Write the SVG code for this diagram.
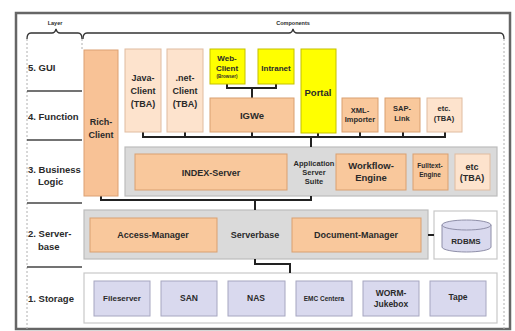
<svg xmlns="http://www.w3.org/2000/svg" width="515" height="331" viewBox="0 0 515 331">
<style>
text{font-family:"Liberation Sans",Arial,sans-serif;font-weight:bold;fill:#2a2a2a;text-anchor:middle}
.lay{text-anchor:start;font-size:9.5px}
.or{fill:#f9c89c;stroke:#d9a070;stroke-width:1}
.rc{fill:#f8c296;stroke:#dca072;stroke-width:1}
.lp{fill:#fde3cd;stroke:#e0bca0;stroke-width:1}
.ye{fill:#ffff00;stroke:#c4c000;stroke-width:1}
.gr{fill:#dadada;stroke:#bdbdbd;stroke-width:1.2}
.lv{fill:#d9d9ee;stroke:#a6a6c0;stroke-width:1}
.wb{fill:#ffffff;stroke:#c8c8c8;stroke-width:1.2}
.ln{fill:none;stroke:#222;stroke-width:2}
.sep{stroke:#444;stroke-width:1.5}
.dash{stroke:#b0b0b0;stroke-width:1;stroke-dasharray:2 2}
</style>
<rect x="0" y="0" width="515" height="331" fill="#fff"/>
<rect x="16" y="13" width="494" height="316" fill="none" stroke="#666" stroke-width="2.5"/>
<g id="braces">
<path d="M27,39 Q27,33 31,33 L52,33 Q55,33 56,29 Q57,33 60,33 L78,33 Q82,33 82,39" fill="none" stroke="#333" stroke-width="1.3"/>
<path d="M83,39 Q83,33 87,33 L289,33 Q292,33 293,29 Q294,33 297,33 L500,33 Q504,33 504,39" fill="none" stroke="#333" stroke-width="1.3"/>
<text x="55" y="25" style="font-size:5.5px">Layer</text>
<text x="293" y="25" style="font-size:5.5px">Components</text>
<line class="dash" x1="27" y1="39" x2="27" y2="329"/>
<line class="dash" x1="82" y1="39" x2="82" y2="50"/>
<line class="dash" x1="504" y1="39" x2="504" y2="329"/>
</g>
<g id="layers">
<line class="sep" x1="27" y1="91" x2="82" y2="91"/>
<line class="sep" x1="27" y1="140" x2="82" y2="140"/>
<line class="sep" x1="27" y1="203" x2="82" y2="203"/>
<line class="sep" x1="27" y1="267" x2="82" y2="267"/>
<text class="lay" x="28" y="71">5. GUI</text>
<text class="lay" x="28" y="120">4. Function</text>
<text class="lay" x="28" y="173">3. Business</text>
<text class="lay" x="38" y="185">Logic</text>
<text class="lay" x="28" y="237">2. Server-</text>
<text class="lay" x="38" y="250">base</text>
<text class="lay" x="28" y="302">1. Storage</text>
</g>
<g id="containers">
<rect id="business-logic" class="gr" x="125" y="147" width="372" height="49"/>
<rect id="serverbase-box" class="gr" x="84" y="210" width="344" height="49"/>
<rect id="rdbms-box" class="wb" x="434" y="211" width="63" height="48"/>
<rect id="storage-box" class="wb" x="84" y="273" width="413" height="50"/>
</g>
<g id="connectors">
<path class="ln" d="M227,84 V88 H276 V84"/>
<path class="ln" d="M252,88 V98"/>
<path class="ln" d="M143,132 V137 H445 V132 M185,132 V137 M252,132 V137 M318,133 V137 M360,132 V137 M403,132 V137"/>
<path class="ln" d="M311,137 V147"/>
<path class="ln" d="M101,196 V200 H311 V196"/>
<path class="ln" d="M255,200 V210"/>
<path class="ln" d="M255,259 V264 H290 V273"/>
<path class="ln" d="M428,235 H434"/>
</g>
<g id="rich-client"><rect class="rc" x="84" y="50" width="34" height="146"/><text x="101" y="125" style="font-size:9px">Rich-</text><text x="101" y="138" style="font-size:9px">Client</text></g>
<g id="java-client"><rect class="lp" x="125" y="49" width="36" height="83"/><text x="143" y="81" style="font-size:9px">Java-</text><text x="143" y="94" style="font-size:9px">Client</text><text x="143" y="107" style="font-size:9px">(TBA)</text></g>
<g id="net-client"><rect class="lp" x="167" y="49" width="36" height="83"/><text x="185" y="81" style="font-size:9px">.net-</text><text x="185" y="94" style="font-size:9px">Client</text><text x="185" y="107" style="font-size:9px">(TBA)</text></g>
<g id="web-client"><rect class="ye" x="210" y="49" width="35" height="35"/><text x="227" y="61" style="font-size:8px">Web-</text><text x="227" y="71" style="font-size:8px">Client</text><text x="227" y="78" style="font-size:4.5px">(Browser)</text></g>
<g id="intranet"><rect class="ye" x="258" y="49" width="36" height="35"/><text x="276" y="71" style="font-size:8px">Intranet</text></g>
<g id="portal"><rect class="ye" x="301" y="49" width="35" height="84"/><text x="318" y="96" style="font-size:9.5px">Portal</text></g>
<g id="igwe"><rect class="or" x="210" y="98" width="84" height="34"/><text x="252" y="119" style="font-size:9.5px">IGWe</text></g>
<g id="xml-importer"><rect class="or" x="342" y="98" width="36" height="34"/><text x="360" y="113" style="font-size:7.5px">XML-</text><text x="360" y="122" style="font-size:7.5px">Importer</text></g>
<g id="sap-link"><rect class="or" x="385" y="98" width="35" height="34"/><text x="402" y="111" style="font-size:7.5px">SAP-</text><text x="402" y="121" style="font-size:7.5px">Link</text></g>
<g id="etc-function"><rect class="lp" x="427" y="98" width="35" height="34"/><text x="444" y="111" style="font-size:7.5px">etc.</text><text x="444" y="121" style="font-size:7.5px">(TBA)</text></g>
<g id="index-server"><rect class="or" x="135" y="154" width="152" height="36"/><text x="211" y="176" style="font-size:9px">INDEX-Server</text></g>
<g id="app-server-suite"><text x="314" y="166" style="font-size:7.5px">Application</text><text x="314" y="175" style="font-size:7.5px">Server</text><text x="314" y="184" style="font-size:7.5px">Suite</text></g>
<g id="workflow-engine"><rect class="or" x="336" y="154" width="70" height="36"/><text x="371" y="169" style="font-size:9.5px">Workflow-</text><text x="371" y="181" style="font-size:9.5px">Engine</text></g>
<g id="fulltext-engine"><rect class="or" x="413" y="154" width="35" height="36"/><text x="430" y="168" style="font-size:6.5px">Fulltext-</text><text x="430" y="177" style="font-size:6.5px">Engine</text></g>
<g id="etc-business"><rect class="lp" x="455" y="154" width="35" height="36"/><text x="472" y="170" style="font-size:9px">etc</text><text x="472" y="181" style="font-size:9px">(TBA)</text></g>
<g id="access-manager"><rect class="or" x="90" y="218" width="127" height="34"/><text x="153" y="238" style="font-size:9px">Access-Manager</text></g>
<g id="serverbase"><text x="255" y="238" style="font-size:9px">Serverbase</text></g>
<g id="document-manager"><rect class="or" x="292" y="218" width="129" height="34"/><text x="356" y="238" style="font-size:9px">Document-Manager</text></g>
<g id="rdbms"><path d="M442,225 V247 A24.5,5 0 0 0 491,247 V225" fill="#d9d9ee" stroke="#8e8ea8" stroke-width="1"/><ellipse cx="466.5" cy="225" rx="24.5" ry="5" fill="#d9d9ee" stroke="#8e8ea8" stroke-width="1"/><text x="466" y="244" style="font-size:8px">RDBMS</text></g>
<g id="fileserver"><rect class="lv" x="94" y="281" width="56" height="35"/><text x="122" y="301" style="font-size:8px">Fileserver</text></g>
<g id="san"><rect class="lv" x="161" y="281" width="56" height="35"/><text x="189" y="301" style="font-size:8.5px">SAN</text></g>
<g id="nas"><rect class="lv" x="228" y="281" width="57" height="35"/><text x="256" y="301" style="font-size:8.5px">NAS</text></g>
<g id="emc-centera"><rect class="lv" x="296" y="281" width="56" height="35"/><text x="324" y="301" style="font-size:6.5px">EMC Centera</text></g>
<g id="worm-jukebox"><rect class="lv" x="363" y="281" width="56" height="35"/><text x="391" y="296" style="font-size:8.5px">WORM-</text><text x="391" y="307" style="font-size:8.5px">Jukebox</text></g>
<g id="tape"><rect class="lv" x="430" y="281" width="56" height="35"/><text x="458" y="300" style="font-size:8.5px">Tape</text></g>
</svg>
